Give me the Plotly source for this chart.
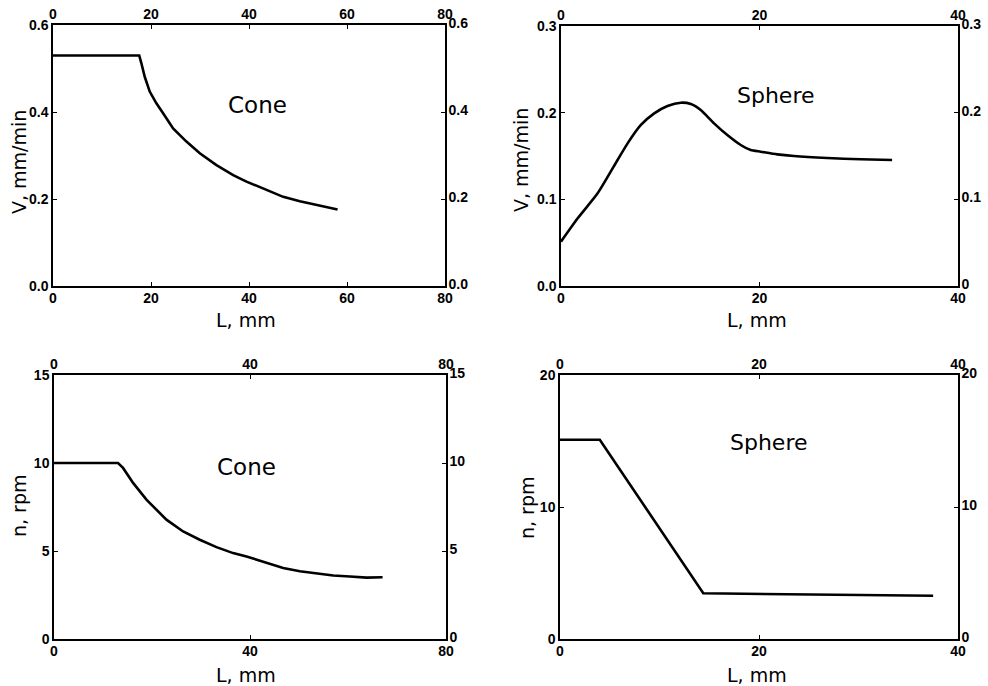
import plotly.graph_objects as go

# ---- data ----
cone_v_L = [0, 17.6, 18.04, 18.72, 19.74, 21.1, 22.47, 24.51, 27.23, 29.96, 33.36, 36.77, 39.49, 43.57, 46.98, 50.38, 53.79, 58.07]
cone_v_V = [0.53, 0.53, 0.512, 0.481, 0.447, 0.420, 0.397, 0.362, 0.332, 0.305, 0.278, 0.255, 0.240, 0.221, 0.205, 0.195, 0.186, 0.176]

sph_v_L = [0, 1.68, 3.69, 5.70, 6.71, 8.05, 9.39, 10.73, 12.07, 13.08, 14.08, 15.42, 16.76, 18.11, 19.11, 20.12, 21.79, 23.47, 26.82, 30.18, 33.36]
sph_v_V = [0.0512, 0.0781, 0.1069, 0.1454, 0.1646, 0.1858, 0.1992, 0.2077, 0.2115, 0.2100, 0.2031, 0.1877, 0.1742, 0.1627, 0.1569, 0.1550, 0.1519, 0.1500, 0.1477, 0.1462, 0.1454]

cone_n_L = [0, 13.07, 14.09, 16.14, 18.86, 22.94, 26.35, 29.75, 33.16, 36.56, 39.29, 43.37, 46.77, 50.18, 53.58, 56.99, 60.39, 63.8, 67.06]
cone_n_N = [10.0, 10.0, 9.72, 8.87, 7.92, 6.78, 6.11, 5.64, 5.22, 4.88, 4.69, 4.35, 4.03, 3.85, 3.74, 3.61, 3.55, 3.49, 3.51]

sph_n_L = [0, 4.0, 14.4, 37.5]
sph_n_N = [15.1, 15.1, 3.46, 3.28]

# tick labels
p1_x_ticks = [0, 20, 40, 60, 80]
p1_y_ticks = [0.0, 0.2, 0.4, 0.6]
p1_y_text = ["0.0", "0.2", "0.4", "0.6"]
p2_x_ticks = [0, 20, 40]
p2_y_ticks = [0.0, 0.1, 0.2, 0.3]
p2_yl_text = ["0.0", "0.1", "0.2", "0.3"]
p2_yr_text = ["0", "0.1", "0.2", "0.3"]
p3_x_ticks = [0, 40, 80]
p3_y_ticks = [0, 5, 10, 15]
p4_x_ticks = [0, 20, 40]
p4_y_ticks = [0, 10, 20]

W, H = 988, 686
FONT = "Liberation Sans"
TFONT = "DejaVu Sans"

def px_dom_x(a, b):
    return [a / W, b / W]

def px_dom_y(top, bottom):
    return [1 - bottom / H, 1 - top / H]

panels = [
    dict(xd=(53, 445), yd=(25, 286), xr=[0, 80], yr=[0, 0.6], xt=p1_x_ticks, yt=p1_y_ticks,
         ylt=p1_y_text, yrt=p1_y_text, x=cone_v_L, y=cone_v_V, shape="linear"),
    dict(xd=(561, 958), yd=(26, 286), xr=[0, 40], yr=[0, 0.3], xt=p2_x_ticks, yt=p2_y_ticks,
         ylt=p2_yl_text, yrt=p2_yr_text, x=sph_v_L, y=sph_v_V, shape="spline"),
    dict(xd=(54, 446), yd=(375, 639), xr=[0, 80], yr=[0, 15], xt=p3_x_ticks, yt=p3_y_ticks,
         ylt=[str(v) for v in p3_y_ticks], yrt=[str(v) for v in p3_y_ticks], x=cone_n_L, y=cone_n_N, shape="linear"),
    dict(xd=(560, 958), yd=(375, 639), xr=[0, 40], yr=[0, 20], xt=p4_x_ticks, yt=p4_y_ticks,
         ylt=[str(v) for v in p4_y_ticks], yrt=[str(v) for v in p4_y_ticks], x=sph_n_L, y=sph_n_N, shape="linear"),
]

fig = go.Figure()
tickfont = dict(family=FONT, size=14, color="black", weight="bold")
layout = {}
for i, p in enumerate(panels):
    n = i + 1
    on = i + 5
    xs = "" if n == 1 else str(n)
    ys = xs
    common = dict(showgrid=False, zeroline=False, showline=True, linecolor="black", linewidth=1.5,
                  ticks="inside", ticklen=4, tickwidth=1, tickcolor="black", tickfont=tickfont,
                  fixedrange=True, automargin=False)
    layout["xaxis" + xs] = dict(domain=px_dom_x(*p["xd"]), range=p["xr"], anchor="y" + ys,
                                tickvals=p["xt"], ticktext=[str(v) for v in p["xt"]], side="bottom",
                                ticklabelstandoff=-2, **common)
    layout["yaxis" + ys] = dict(domain=px_dom_y(*p["yd"]), range=p["yr"], anchor="x" + xs,
                                tickvals=p["yt"], ticktext=p["ylt"], side="left", **common)
    layout["xaxis%d" % on] = dict(overlaying="x" + xs, range=p["xr"], anchor="y" + ys, side="top",
                                  tickvals=p["xt"], ticktext=[str(v) for v in p["xt"]],
                                  ticklabelstandoff=-1, **common)
    layout["yaxis%d" % on] = dict(overlaying="y" + ys, range=p["yr"], anchor="x" + xs, side="right",
                                  tickvals=p["yt"], ticktext=p["yrt"], ticklabelstandoff=-1,
                                  ticklabelshift=-2, **common)
    fig.add_trace(go.Scatter(x=p["x"], y=p["y"], mode="lines",
                             line=dict(color="black", width=2.6, shape=p["shape"], smoothing=0.6),
                             xaxis="x" + xs, yaxis="y" + ys, showlegend=False, hoverinfo="skip"))
    fig.add_trace(go.Scatter(x=p["x"], y=p["y"], mode="lines", line=dict(color="rgba(0,0,0,0)", width=0),
                             xaxis="x%d" % on, yaxis="y%d" % on, showlegend=False, hoverinfo="skip"))

annots = []
def ann(text, x, y, size, angle=0):
    annots.append(dict(text=text, x=x / W, y=1 - y / H, xref="paper", yref="paper",
                       showarrow=False, textangle=angle, font=dict(family=TFONT, size=size, color="black"),
                       xanchor="center", yanchor="middle"))

ann("Cone", 257, 105, 23)
ann("Sphere", 776, 95, 22)
ann("Cone", 246, 467, 23)
ann("Sphere", 769, 442, 22)
ann("V, mm/min", 19, 162, 19, -90)
ann("V, mm/min", 521, 160, 19, -90)
ann("n, rpm", 19, 506, 19, -90)
ann("n, rpm", 527, 508, 19, -90)
ann("L, mm", 246, 320, 19)
ann("L, mm", 757, 320, 19)
ann("L, mm", 246, 675, 19)
ann("L, mm", 757, 675, 19)

fig.update_layout(template="none", width=W, height=H, margin=dict(l=0, r=0, t=0, b=0),
                  plot_bgcolor="white", paper_bgcolor="white", annotations=annots, **layout)
fig.write_html("out.html", config={"displayModeBar": False},
               post_script="document.body.style.margin='0';document.body.style.overflow='hidden';")
